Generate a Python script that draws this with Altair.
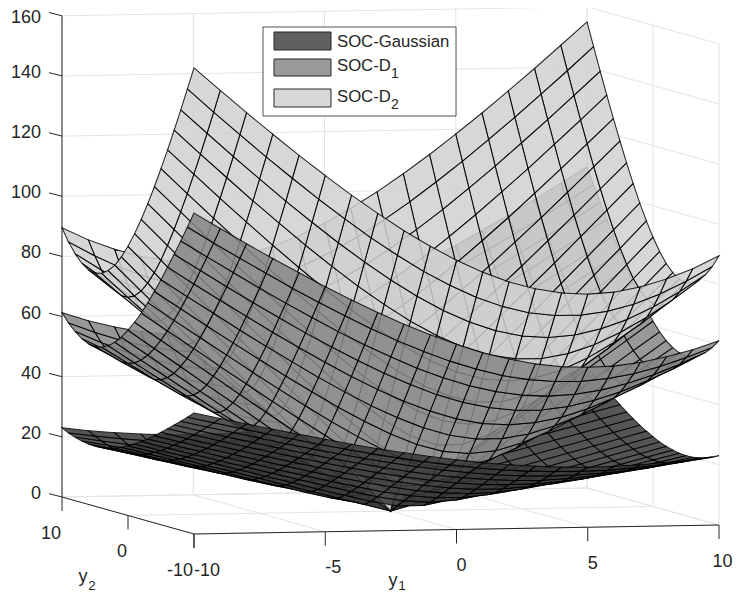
import altair as alt
import pandas as pd
import math

# Surface sections: height along the diagonals y1=y2 (sum) and y1=-y2 (diff), 0..20
GAUSS_SUM = [0,2.0,4.0,6.0,8.0,10.1,12.1,14.1,16.1,18.1,20.1,22.1,24.1,26.1,28.1,30.2,32.2,34.2,36.2,38.2,40.2]
GAUSS_DIFF = [0,1.2,2.3,3.5,4.6,5.8,6.9,8.0,9.2,10.4,11.5,12.6,13.8,15.0,16.1,17.2,18.4,19.6,20.7,21.8,23.0]
D1_SUM = [0,5.3,10.7,16.0,21.3,26.7,32.0,37.3,42.7,48.0,53.4,58.7,64.0,69.4,74.7,80.0,85.4,90.7,96.0,101.4,106.7]
D1_DIFF = [0,3.1,6.1,9.2,12.3,15.3,18.4,21.4,24.5,27.6,30.7,33.7,36.8,39.9,42.9,46.0,49.0,52.1,55.2,58.2,61.3]
D2_SUM = [0,7.8,15.5,23.3,31.0,38.8,46.5,54.3,62.0,69.8,77.5,85.3,93.0,100.8,108.5,116.3,124.0,131.8,139.5,147.3,155.0]
D2_DIFF = [0,4.5,9.0,13.4,17.9,22.4,26.9,31.3,35.8,40.3,44.8,49.2,53.7,58.2,62.7,67.1,71.6,76.1,80.6,85.0,89.5]

SERIES = ["SOC-Gaussian", "SOC-D1", "SOC-D2"]
SECTIONS = [(GAUSS_SUM, GAUSS_DIFF), (D1_SUM, D1_DIFF), (D2_SUM, D2_DIFF)]
FILLS = ["#383838", "#878787", "#d1d1d1"]
SWATCHES = ["#606060", "#999999", "#d8d8d8"]
GRID = list(range(-10, 11))
Y1_TICKS = [-10, -5, 0, 5, 10]
Y2_TICKS = [-10, 0, 10]
Z_TICKS = [0, 20, 40, 60, 80, 100, 120, 140, 160]

ZS = 3.0075


def project(y1, y2, z):
    u, v = (y1 + 10) / 20, (y2 + 10) / 20
    return 194 + 525 * u - 132 * v, 534 - 9 * u - 37 * v - ZS * z


def depth(y1, y2, z):
    u, v = (y1 + 10) / 20, (y2 + 10) / 20
    return 130 * u + 534 * v - 0.209 * z


quads = []
for name, (ps, qs) in zip(SERIES, SECTIONS):
    def height(a, b):
        return math.hypot(ps[abs(a + b)], qs[abs(a - b)])
    for a, b in zip(GRID[:-1], GRID[1:]):
        for c, d in zip(GRID[:-1], GRID[1:]):
            corners = [(a, c), (b, c), (b, d), (a, d)]
            pts = [(p, q, height(p, q)) for p, q in corners]
            ring = [list(project(*pt)) for pt in pts]
            ring.append(ring[0])
            mean = [sum(pt[k] for pt in pts) / 4 for k in range(3)]
            quads.append((depth(*mean), {
                "type": "Feature",
                "properties": {"series": name},
                "geometry": {"type": "Polygon", "coordinates": [ring]},
            }))
quads.sort(key=lambda t: -t[0])
features = [f for _, f in quads]


def seg(a, b):
    return dict(x=a[0], y=a[1], x2=b[0], y2=b[1])


grid_rows, axis_rows = [], []
for t in Y1_TICKS:
    grid_rows.append(seg(project(t, -10, 0), project(t, 10, 0)))
    grid_rows.append(seg(project(t, 10, 0), project(t, 10, 160)))
for t in Y2_TICKS:
    grid_rows.append(seg(project(-10, t, 0), project(10, t, 0)))
    grid_rows.append(seg(project(10, t, 0), project(10, t, 160)))
for z in Z_TICKS:
    grid_rows.append(seg(project(-10, 10, z), project(10, 10, z)))
    grid_rows.append(seg(project(10, 10, z), project(10, -10, z)))

axis_rows.append(seg(project(-10, 10, 0), project(-10, 10, 160)))
axis_rows.append(seg(project(-10, 10, 0), project(-10, -10, 0)))
axis_rows.append(seg(project(-10, -10, 0), project(10, -10, 0)))
label_rows = []
for t in Y1_TICKS:
    p = project(t, -10, 0)
    axis_rows.append(seg(p, (p[0], p[1] + 14)))
    label_rows.append(dict(x=min(p[0], 712.5), y=p[1] + 36.5, text=str(t), align="left"))
for t in Y2_TICKS:
    p = project(-10, t, 0)
    axis_rows.append(seg(p, (p[0], p[1] + 14)))
    label_rows.append(dict(x=p[0] - 1, y=p[1] + 36.5, text=str(t), align="right"))
for z in Z_TICKS:
    p = project(-10, 10, z)
    axis_rows.append(seg(p, (p[0] - 13, p[1] - 3.3)))
    label_rows.append(dict(x=p[0] - 21, y=max(p[1] - 3, 17.5), text=str(z), align="right"))

INK = "#262626"
FONT = "Liberation Sans"
X = alt.X("x:Q", scale=alt.Scale(domain=[8, 733], range=[0, 725]), axis=None)
Y = alt.Y("y:Q", scale=alt.Scale(domain=[8, 592], range=[0, 584]), axis=None)


def rules(rows, color, width):
    return alt.Chart(pd.DataFrame(rows)).mark_rule(color=color, strokeWidth=width).encode(
        x=X, y=Y, x2="x2:Q", y2="y2:Q")


def texts(rows, size, align):
    return alt.Chart(pd.DataFrame(rows)).mark_text(
        font=FONT, fontSize=size, color=INK, align=align, baseline="middle"
    ).encode(x=X, y=Y, text="text:N")


surfaces = alt.Chart(alt.Data(values=features)).mark_geoshape(
    stroke="black", strokeWidth=1.05, opacity=0.85
).encode(
    color=alt.Color("properties.series:N",
                    scale=alt.Scale(domain=SERIES, range=FILLS), legend=None)
).project(type="identity", scale=1, translate=[-8, -8])

legend_box = alt.Chart(pd.DataFrame([dict(x=263, x2=456, y=27, y2=116)])).mark_rect(
    fill="white", stroke=INK, strokeWidth=0.8).encode(x=X, x2="x2:Q", y=Y, y2="y2:Q")
swatch_df = pd.DataFrame([
    dict(x=274, x2=331, y=32, y2=50, s=SERIES[0]),
    dict(x=274, x2=331, y=59, y2=76, s=SERIES[1]),
    dict(x=274, x2=331, y=89, y2=107, s=SERIES[2]),
])
legend_swatch = alt.Chart(swatch_df).mark_rect(stroke=INK, strokeWidth=1).encode(
    x=X, x2="x2:Q", y=Y, y2="y2:Q",
    fill=alt.Fill("s:N", scale=alt.Scale(domain=SERIES, range=SWATCHES), legend=None))

legend_text = texts([
    dict(x=337, y=42, text="SOC-Gaussian"),
    dict(x=337, y=66, text="SOC-D"),
    dict(x=337, y=97, text="SOC-D"),
], 16.7, "left")
small_text = texts([
    dict(x=395, y=74, text="1"),
    dict(x=395, y=105, text="2"),
], 14, "center")
titles = texts([
    dict(x=393, y=581, text="y"),
    dict(x=83, y=577, text="y"),
], 18, "center")
title_subs = texts([
    dict(x=402, y=586, text="1"),
    dict(x=92, y=586, text="2"),
], 13.5, "center")

tick_left = texts([r for r in label_rows if r["align"] == "left"], 18, "left")
tick_right = texts([r for r in label_rows if r["align"] == "right"], 18, "right")

chart = alt.layer(
    rules(grid_rows, "#e4e4e4", 1),
    rules(axis_rows, INK, 1),
    surfaces,
    tick_left, tick_right, titles, title_subs,
    legend_box, legend_swatch, legend_text, small_text,
).resolve_scale(color="independent", fill="independent").properties(
    width=725, height=584, padding=0, autosize=alt.AutoSizeParams(type="none"),
    background="white"
).configure_view(stroke=None)

chart.save("out.html", embed_options={"renderer": "svg", "actions": False})
